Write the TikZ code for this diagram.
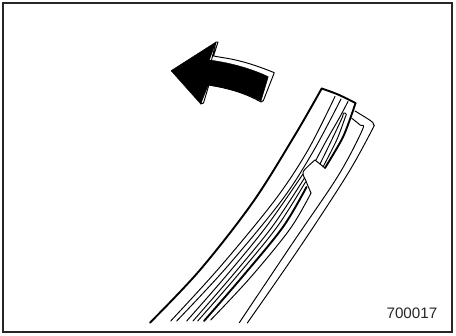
\documentclass[tikz,border=0pt]{standalone}
\usepackage{fontspec}
\setmainfont{Liberation Sans}
\tikzset{
  frameline/.style={draw=black!85,line width=1.2pt},
  thickline/.style={draw=black,line width=1.9pt,line cap=round,line join=round},
  thinline/.style={draw=black,line width=0.95pt,line cap=round,line join=round},
  sm/.style={smooth,tension=0.55},
}
\begin{document}
\begin{tikzpicture}[x=1pt,y=-1pt]
\useasboundingbox (0,0) rectangle (456,336);
\fill[white] (0,0) rectangle (456,336);
\draw[frameline] (3,3) rectangle (452,332);
% arrow
\draw[thinline,fill=white] (216,42) -- (218,42) -- (213.5,56) -- (222,57.5) .. controls (240,60) and (258,66) .. (274.3,72.7) -- (263.3,100.7) -- (261,102) .. controls (245,93) and (228,88) .. (208.3,85) -- (208.3,87) -- (203.5,103) -- (200.7,104) -- cycle;
\fill[black,draw=black,line width=0.4pt,line join=round] (171,70.7) -- (216,42) -- (209.3,60) .. controls (232,63) and (252,69) .. (268.3,76.7) -- (261,101) .. controls (245,93) and (228,88) .. (208.3,85) -- (200.7,104) -- cycle;
% blade outline
\draw[thickline] plot[sm] coordinates {(150,322.7) (200,270) (253,202) (295,135) (321.7,88.5)};
\draw[thickline] plot[sm] coordinates {(321.7,88.5) (338,94.5) (355.5,103)};
\draw[thickline] plot[sm] coordinates {(355.5,103) (349,122) (341.5,140) (325,168)};
\draw[thickline] plot[sm] coordinates {(306.5,187) (283,227) (243,276) (204,321)};
% blade inner lines
\draw[thinline] plot[sm] coordinates {(335,96.5) (308,150) (275,200) (220,267) (170.7,321)};
\draw[thinline] plot[sm] coordinates {(341,99) (314,150) (282,200) (226,268) (176.7,321)};
\draw[thinline] plot[sm] coordinates {(348,101.5) (339.3,118) (326.7,140) (316,160)};
\draw[thinline] plot[sm] coordinates {(320,164) (331.7,140) (342,118) (343.3,113.3) (345,113) (346.3,114.3) (345,118) (336.7,140) (323,167)};
\draw[thinline] (315,160) -- (325,168);
% notch edge
\draw[thinline] plot[sm] coordinates {(315,160) (303.3,171.7) (306,181) (311,193)};
\draw[thinline] plot[sm] coordinates {(303,174) (266,227) (226,276) (186.7,321)};
\draw[thinline] plot[sm] coordinates {(304.5,178) (272,227) (232,276) (193,321)};
\draw[thinline] plot[sm] coordinates {(305.5,182) (277,227) (237,276) (197.7,321)};
\draw[thinline] plot[sm] coordinates {(311,193) (290,229) (250,278) (210.7,320)};
% guard
\draw[thinline] plot[sm] coordinates {(355,111) (371,121) (373.5,125) (372,130) (347,175) (300,247) (247.3,323)};
\draw[thinline] plot[sm] coordinates {(351.7,118.3) (360,125) (362.3,130) (338,176) (292,244) (239.3,322.7)};
\node[font=\fontsize{15.2}{17}\selectfont,text=black!85,anchor=base east,inner sep=0pt] (code) at (437.5,319) {700017};
\end{tikzpicture}
\end{document}
